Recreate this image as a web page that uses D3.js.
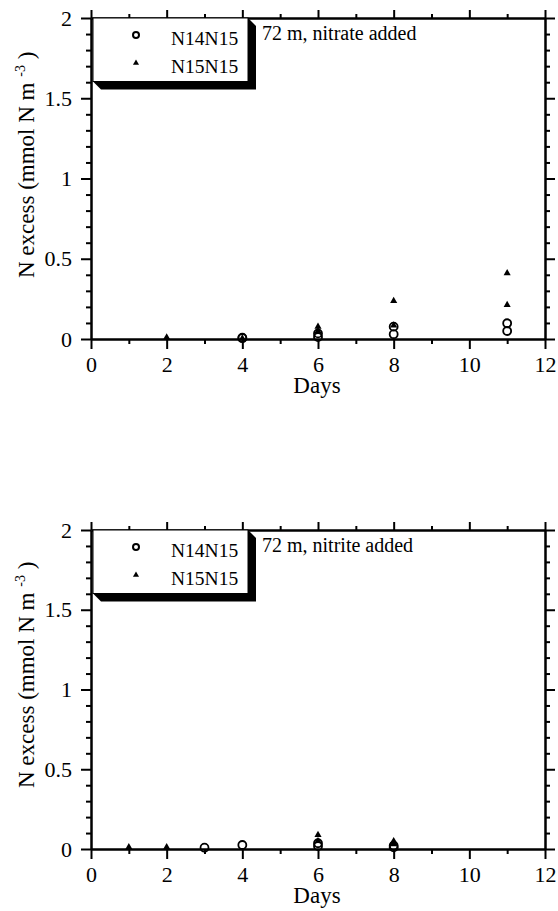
<!DOCTYPE html>
<html><head><meta charset="utf-8">
<script src="https://cdn.jsdelivr.net/npm/d3@7"></script>
</head>
<body style="margin:0;background:#fff">
<svg id="c" width="558" height="911" style="display:block"></svg>
<script>
// ---- data ----
const seriesNames = ["N14N15", "N15N15"];
const xMajorTicks = [0, 2, 4, 6, 8, 10, 12];
const yMajorTicks = [0, 0.5, 1, 1.5, 2];
const yTickLabels = ["0", "0.5", "1", "1.5", "2"];

// panel 1: 72 m, nitrate added
const p1Title = "72 m, nitrate added";
const p1N14N15Days = [4, 4, 6, 6, 8, 8, 11, 11];
const p1N14N15Vals = [0.005, 0.008, 0.035, 0.012, 0.077, 0.03, 0.098, 0.05];
const p1N15N15Days = [2, 4, 6, 6, 8, 8, 11, 11];
const p1N15N15Vals = [0.01, 0.004, 0.077, 0.05, 0.237, 0.085, 0.41, 0.212];

// panel 2: 72 m, nitrite added
const p2Title = "72 m, nitrite added";
const p2N14N15Days = [3, 4, 6, 6, 8, 8];
const p2N14N15Vals = [0.008, 0.025, 0.036, 0.018, 0.02, 0.01];
const p2N15N15Days = [1, 2, 6, 6, 8, 8];
const p2N15N15Vals = [0.012, 0.012, 0.088, 0.05, 0.05, 0.03];

const svg = d3.select("#c");

function panel(top, bottom, title, cDays, cVals, tDays, tVals) {
  const x = d3.scaleLinear().domain([0, 12]).range([91, 545]);
  const y = d3.scaleLinear().domain([0, 2]).range([bottom, top]);
  const g = svg.append("g");
  const xMinor = d3.range(1, 12, 2);
  const yMinor = d3.range(0, 2.0001, 0.1).filter(v => Math.abs(v * 2 - Math.round(v * 2)) > 1e-6);

  function styleAxis(sel) {
    sel.selectAll("path.domain").attr("stroke", "#000").attr("stroke-width", 2);
    sel.selectAll(".tick line").attr("stroke", "#000").attr("stroke-width", 2);
    sel.selectAll("text").attr("fill", "#000").attr("font-size", 22);
  }
  // bottom
  g.append("g").attr("transform", `translate(0,${bottom})`)
    .call(d3.axisBottom(x).tickValues(xMajorTicks).tickSize(10).tickSizeOuter(0).tickPadding(7).tickFormat(d3.format("d")))
    .call(styleAxis);
  g.append("g").attr("transform", `translate(0,${bottom})`)
    .call(d3.axisBottom(x).tickValues(xMinor).tickSize(5).tickSizeOuter(0).tickFormat(""))
    .call(styleAxis);
  // top
  g.append("g").attr("transform", `translate(0,${top})`)
    .call(d3.axisTop(x).tickValues(xMajorTicks).tickSize(8).tickSizeOuter(0).tickFormat(""))
    .call(styleAxis);
  g.append("g").attr("transform", `translate(0,${top})`)
    .call(d3.axisTop(x).tickValues(xMinor).tickSize(4).tickSizeOuter(0).tickFormat(""))
    .call(styleAxis);
  // left
  g.append("g").attr("transform", `translate(91,0)`)
    .call(d3.axisLeft(y).tickValues(yMajorTicks).tickSize(10).tickSizeOuter(0).tickPadding(9).tickFormat((d, i) => yTickLabels[i]))
    .call(styleAxis);
  g.append("g").attr("transform", `translate(91,0)`)
    .call(d3.axisLeft(y).tickValues(yMinor).tickSize(5).tickSizeOuter(0).tickFormat(""))
    .call(styleAxis);
  // right
  g.append("g").attr("transform", `translate(545,0)`)
    .call(d3.axisRight(y).tickValues(yMajorTicks).tickSize(10).tickSizeOuter(0).tickFormat(""))
    .call(styleAxis);
  g.append("g").attr("transform", `translate(545,0)`)
    .call(d3.axisRight(y).tickValues(yMinor).tickSize(5).tickSizeOuter(0).tickFormat(""))
    .call(styleAxis);

  // axis titles
  g.append("text").attr("x", 317).attr("y", bottom + 54).attr("text-anchor", "middle")
    .attr("font-size", 23).text("Days");
  const yl = g.append("text").attr("transform", `translate(34,${bottom - 61}) rotate(-90)`)
    .attr("font-size", 23);
  yl.append("tspan").text("N excess (mmol N m ");
  yl.append("tspan").attr("font-size", 14).attr("dy", -9).text("-3");
  yl.append("tspan").attr("dy", 9).text(" )");

  // data markers
  const pts = g.append("g");
  pts.selectAll("circle").data(cDays.map((d, i) => [d, cVals[i]])).join("circle")
    .attr("cx", d => x(d[0])).attr("cy", d => y(d[1])).attr("r", 4)
    .attr("fill", "none").attr("stroke", "#000").attr("stroke-width", 1.8);
  const tri = d3.symbol(d3.symbolTriangle, 22);
  pts.selectAll("path.t").data(tDays.map((d, i) => [d, tVals[i]])).join("path")
    .attr("class", "t").attr("d", tri)
    .attr("transform", d => `translate(${x(d[0])},${y(d[1])})`).attr("fill", "#000");

  // legend box with shadow
  const lx0 = 93, lx1 = 248, ly0 = top, ly1 = top + 63.5, off = 8;
  g.append("polygon")
    .attr("points", [[lx1, ly0], [lx1 + off, ly0 + off], [lx1 + off, ly1 + off], [lx0 + off, ly1 + off], [lx0, ly1], [lx1, ly1]].map(p => p.join(",")).join(" "))
    .attr("fill", "#000");
  g.append("rect").attr("x", lx0).attr("y", ly0).attr("width", lx1 - lx0).attr("height", ly1 - ly0)
    .attr("fill", "#fff").attr("stroke", "#000").attr("stroke-width", 1);
  g.append("circle").attr("cx", 136).attr("cy", top + 17).attr("r", 3)
    .attr("fill", "none").attr("stroke", "#000").attr("stroke-width", 2);
  g.append("path").attr("d", d3.symbol(d3.symbolTriangle, 16))
    .attr("transform", `translate(136,${top + 45})`).attr("fill", "#000");
  g.append("text").attr("x", 171).attr("y", top + 27).attr("font-size", 19.5).text(seriesNames[0]);
  g.append("text").attr("x", 171).attr("y", top + 55).attr("font-size", 19.5).text(seriesNames[1]);

  // annotation
  g.append("text").attr("x", 262).attr("y", top + 22).attr("font-size", 20).text(title);
}

panel(18, 339, p1Title, p1N14N15Days, p1N14N15Vals, p1N15N15Days, p1N15N15Vals);
panel(530, 849, p2Title, p2N14N15Days, p2N14N15Vals, p2N15N15Days, p2N15N15Vals);

svg.selectAll("g").attr("font-family", null);
svg.selectAll("text").style("font-family", '"Liberation Serif"').attr("fill", "#000");
</script></body></html>
